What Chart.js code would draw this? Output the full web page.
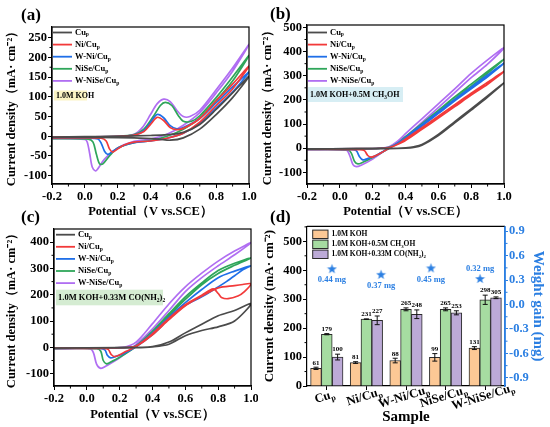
<!DOCTYPE html>
<html>
<head>
<meta charset="utf-8">
<script src="https://cdn.jsdelivr.net/npm/chart.js@4.4.1/dist/chart.umd.min.js"></script>
<style>
  html, body { margin: 0; padding: 0; background: #fff; }
  #wrap { position: relative; width: 550px; height: 427px; overflow: hidden; }
  canvas { position: absolute; }
</style>
</head>
<body>
<div id="wrap">
  <canvas id="ca" width="258" height="222" style="left:0;top:0"></canvas>
  <canvas id="cb" width="292" height="222" style="left:258px;top:0"></canvas>
  <canvas id="cc" width="258" height="222" style="left:0;top:205px"></canvas>
  <canvas id="cd" width="292" height="222" style="left:258px;top:205px"></canvas>
</div>
<script>
// ---- data ----
const SAMPLES = ['Cu', 'Ni/Cu', 'W-Ni/Cu', 'NiSe/Cu', 'W-NiSe/Cu']; // each gets a subscript "p"
const COLORS = ['#4b4b4b', '#f23a3a', '#1f6fe8', '#2fa65a', '#b06ef2'];

const potTicks = [-0.2, 0, 0.2, 0.4, 0.6, 0.8, 1.0];
const kohTicks = [-100, -50, 0, 50, 100, 150, 200, 250];
const methTicks = [-100, 0, 100, 200, 300, 400, 500];
const ureaTicks = [-100, 0, 100, 200, 300, 400];
const barTicks = [0, 100, 200, 300, 400, 500];
const weightTicks = [-0.9, -0.6, -0.3, 0, 0.3, 0.6, 0.9];

// (a) 1.0M KOH  [potential V, current mA/cm2], forward then reverse scan
const koh_Cu = [[-0.2,-2],[0,-1],[0.2,0],[0.4,2],[0.5,4],[0.6,10],[0.7,30],[0.8,68],[0.9,110],[1.0,152],[0.9,98],[0.8,55],[0.7,18],[0.6,-4],[0.52,-10],[0.45,-7],[0.3,-4],[0,-3],[-0.2,-3]];
const koh_Ni = [[-0.2,-2],[0.2,0],[0.3,3],[0.36,12],[0.4,30],[0.44,48],[0.48,40],[0.52,22],[0.56,17],[0.6,20],[0.7,45],[0.8,90],[0.9,132],[1.0,178],[0.9,120],[0.8,78],[0.7,36],[0.6,8],[0.5,-5],[0.4,-12],[0.3,-15],[0.24,-22],[0.2,-32],[0.17,-40],[0.15,-32],[0.13,-12],[0.1,-5],[0,-4],[-0.2,-4]];
const koh_WNi = [[-0.2,-2],[0.2,0],[0.3,3],[0.36,14],[0.4,35],[0.44,55],[0.48,47],[0.52,27],[0.56,19],[0.6,22],[0.7,45],[0.8,85],[0.9,125],[1.0,163],[0.9,112],[0.8,72],[0.7,33],[0.6,8],[0.5,-5],[0.4,-12],[0.3,-16],[0.22,-26],[0.17,-38],[0.14,-46],[0.12,-38],[0.1,-18],[0.08,-7],[0,-5],[-0.2,-5]];
const koh_NiSe = [[-0.2,-3],[0.2,0],[0.3,4],[0.36,18],[0.42,52],[0.46,78],[0.49,86],[0.53,78],[0.57,52],[0.6,38],[0.65,38],[0.7,52],[0.8,98],[0.9,150],[1.0,205],[0.9,140],[0.8,90],[0.7,46],[0.6,18],[0.5,0],[0.4,-11],[0.3,-16],[0.2,-30],[0.15,-50],[0.11,-70],[0.09,-70],[0.07,-45],[0.05,-15],[0.02,-7],[-0.2,-6]];
const koh_WNiSe = [[-0.2,-4],[0.2,-1],[0.3,5],[0.35,22],[0.4,55],[0.44,82],[0.48,94],[0.52,88],[0.56,66],[0.6,50],[0.64,50],[0.7,66],[0.8,118],[0.9,173],[1.0,233],[0.9,165],[0.8,110],[0.7,60],[0.6,28],[0.5,5],[0.4,-7],[0.3,-13],[0.2,-30],[0.12,-58],[0.08,-82],[0.065,-88],[0.045,-78],[0.03,-45],[0.015,-15],[0,-8],[-0.2,-6]];

// (b) 1.0M KOH + 0.5M CH3OH
const meth_Cu = [[-0.2,-3],[0.2,-1],[0.35,0],[0.4,2],[0.45,6],[0.5,15],[0.6,57],[0.7,110],[0.8,163],[0.9,217],[1.0,270],[0.9,212],[0.8,158],[0.7,105],[0.6,52],[0.5,12],[0.45,3],[0.4,0],[0.3,-2],[-0.2,-4]];
const meth_Ni = [[-0.2,-3],[0.1,-2],[0.25,0],[0.3,3],[0.35,15],[0.4,38],[0.5,85],[0.6,133],[0.7,180],[0.8,228],[0.9,273],[1.0,318],[0.9,265],[0.8,220],[0.7,172],[0.6,125],[0.5,78],[0.4,32],[0.3,0],[0.25,-20],[0.21,-33],[0.19,-37],[0.17,-30],[0.15,-10],[0.12,-6],[-0.2,-5]];
const meth_WNi = [[-0.2,-3],[0.1,-2],[0.25,0],[0.3,3],[0.35,18],[0.4,45],[0.5,98],[0.6,150],[0.7,202],[0.8,253],[0.9,303],[1.0,352],[0.9,296],[0.8,246],[0.7,196],[0.6,144],[0.5,92],[0.4,40],[0.3,0],[0.22,-30],[0.16,-45],[0.14,-48],[0.12,-35],[0.1,-10],[0.07,-6],[-0.2,-5]];
const meth_NiSe = [[-0.2,-3],[0.1,-2],[0.25,0],[0.3,4],[0.35,20],[0.4,48],[0.5,102],[0.6,157],[0.7,212],[0.8,265],[0.9,318],[1.0,368],[0.9,310],[0.8,256],[0.7,202],[0.6,148],[0.5,96],[0.4,43],[0.3,0],[0.2,-38],[0.14,-58],[0.11,-65],[0.09,-55],[0.07,-20],[0.05,-7],[-0.2,-5]];
const meth_WNiSe = [[-0.2,-4],[0.1,-3],[0.25,0],[0.3,6],[0.35,28],[0.4,60],[0.5,122],[0.6,184],[0.7,246],[0.8,310],[0.9,366],[1.0,416],[0.9,348],[0.8,292],[0.7,230],[0.6,168],[0.5,107],[0.4,48],[0.3,3],[0.2,-45],[0.13,-70],[0.1,-76],[0.08,-68],[0.06,-30],[0.04,-8],[-0.2,-6]];

// (c) 1.0M KOH + 0.33M CO(NH2)2
const urea_Cu = [[-0.2,-3],[0.2,-1],[0.4,3],[0.5,20],[0.6,55],[0.7,88],[0.8,120],[0.9,140],[1.0,166],[0.9,100],[0.8,78],[0.7,64],[0.6,44],[0.5,12],[0.4,2],[0.3,-1],[-0.2,-3]];
const urea_Ni = [[-0.2,-3],[0.1,-2],[0.25,0],[0.3,5],[0.4,52],[0.5,110],[0.6,162],[0.7,198],[0.77,222],[0.8,205],[0.82,190],[0.86,185],[0.92,195],[0.96,212],[1.0,242],[0.95,239],[0.9,235],[0.8,226],[0.7,195],[0.6,158],[0.5,105],[0.4,48],[0.3,3],[0.24,-15],[0.2,-28],[0.17,-35],[0.15,-28],[0.13,-8],[0.1,-4],[-0.2,-4]];
const urea_WNi = [[-0.2,-3],[0.1,-2],[0.25,0],[0.3,5],[0.4,55],[0.5,115],[0.6,170],[0.7,220],[0.8,265],[0.9,290],[1.0,310],[0.95,295],[0.9,272],[0.85,250],[0.8,230],[0.7,192],[0.6,160],[0.5,108],[0.4,48],[0.3,2],[0.22,-25],[0.17,-36],[0.145,-40],[0.125,-30],[0.11,-10],[0.08,-4],[-0.2,-4]];
const urea_NiSe = [[-0.2,-3],[0.1,-2],[0.25,0],[0.3,6],[0.4,62],[0.5,128],[0.6,192],[0.7,245],[0.8,292],[0.9,320],[1.0,340],[0.9,312],[0.8,281],[0.7,238],[0.6,182],[0.5,120],[0.4,55],[0.3,3],[0.2,-38],[0.14,-58],[0.12,-63],[0.1,-50],[0.085,-15],[0.06,-5],[-0.2,-5]];
const urea_WNiSe = [[-0.2,-4],[0.1,-3],[0.22,0],[0.3,20],[0.4,90],[0.5,165],[0.6,230],[0.7,282],[0.8,328],[0.9,366],[1.0,398],[0.9,352],[0.8,310],[0.7,265],[0.6,212],[0.5,140],[0.4,70],[0.3,10],[0.2,-40],[0.12,-70],[0.085,-80],[0.06,-65],[0.04,-20],[0.02,-6],[-0.2,-5]];

// (d) current density at 1.0 V and weight gain
const barSeries = ['1.0M KOH', '1.0M KOH+0.5M CH3OH', '1.0M KOH+0.33M CO(NH2)2'];
const kohJ = [61, 81, 88, 99, 131];
const kohErr = [4, 3, 8, 13, 5];
const methJ = [179, 231, 265, 265, 298];
const methErr = [2, 1, 5, 5, 16];
const ureaJ = [100, 227, 248, 253, 305];
const ureaErr = [10, 15, 15, 7, 3];
const weightGain = [0.44, 0.37, 0.45, 0.32];
const starX = [0.13, 1.37, 2.63, 3.87];

// ---- helpers ----
const FONT = '"Liberation Serif", "Times New Roman", serif';
const BLUE = '#2b7fe2';
const BAR_COLORS = ['#fcc895', '#a6dca1', '#bcaad7'];
const f = (size) => ({ family: FONT, size: size, weight: 'bold' });

// draws text made of [string, isSubscript] pieces
function drawRich(ctx, parts, x, y, size, color, align) {
  ctx.save();
  ctx.fillStyle = color;
  ctx.textBaseline = 'middle';
  ctx.textAlign = 'left';
  const widths = parts.map(([t, s]) => {
    ctx.font = `bold ${s ? size * 0.65 : size}px ${FONT}`;
    return ctx.measureText(t).width;
  });
  const total = widths.reduce((a, b) => a + b, 0);
  let cx = align === 'center' ? x - total / 2 : x;
  parts.forEach(([t, s], i) => {
    ctx.font = `bold ${s ? size * 0.65 : size}px ${FONT}`;
    ctx.fillText(t, cx, s ? y + size * 0.3 : y);
    cx += widths[i];
  });
  ctx.restore();
}
const sampleParts = (name) => [[name, false], ['p', true]];

function panelLetter(ctx, text, x, y) {
  ctx.save();
  ctx.font = `bold 17px ${FONT}`;
  ctx.fillStyle = '#000';
  ctx.textAlign = 'left';
  ctx.textBaseline = 'alphabetic';
  ctx.fillText(text, x, y);
  ctx.restore();
}

function minorTicks(ctx, scale, vals, side, color) {
  const a = scale.chart.chartArea;
  ctx.save();
  ctx.strokeStyle = color;
  ctx.lineWidth = 1;
  ctx.beginPath();
  vals.forEach(v => {
    const p = scale.getPixelForValue(v);
    if (side === 'bottom') { ctx.moveTo(p, a.bottom); ctx.lineTo(p, a.bottom + 2.5); }
    if (side === 'left') { ctx.moveTo(a.left - 2.5, p); ctx.lineTo(a.left, p); }
    if (side === 'right') { ctx.moveTo(a.right, p); ctx.lineTo(a.right + 2.5, p); }
  });
  ctx.stroke();
  ctx.restore();
}
function steps(from, to, step) {
  const out = [];
  for (let v = from; v <= to + 1e-9; v += step) out.push(+v.toFixed(4));
  return out;
}

const axisCommon = {
  grid: { drawOnChartArea: false, tickLength: 4, color: '#000', lineWidth: 1 },
  border: { color: '#000', width: 1.2 },
};

// one CV panel
function cvChart(id, o) {
  new Chart(document.getElementById(id), {
    type: 'scatter',
    data: {
      datasets: o.series.map((pts, i) => ({
        label: SAMPLES[i],
        data: pts.map(([x, y]) => ({ x, y })),
        showLine: true,
        borderColor: COLORS[i],
        borderWidth: 1.7,
        pointRadius: 0,
        tension: 0.3,
      })),
    },
    options: {
      responsive: false,
      animation: false,
      events: [],
      layout: { padding: o.pad },
      plugins: { legend: { display: false }, tooltip: { enabled: false } },
      scales: {
        x: {
          type: 'linear', min: -0.2, max: 1.0,
          afterBuildTicks: s => { s.ticks = potTicks.map(v => ({ value: v })); },
          afterFit: s => { s.height = o.xH; s.paddingLeft = 0; s.paddingRight = 0; },
          ticks: { font: f(12.5), color: '#000', padding: 1, maxRotation: 0, callback: v => v.toFixed(1) },
          ...axisCommon,
          title: { display: true, text: 'Potential（V vs.SCE）', font: f(12.5), color: '#000', padding: { top: 0, bottom: o.xTitlePad } },
        },
        y: {
          min: o.yMin, max: o.yMax,
          afterBuildTicks: s => { s.ticks = o.yTicks.map(v => ({ value: v })); },
          afterFit: s => { s.width = o.yW; s.paddingTop = 0; s.paddingBottom = 0; },
          ticks: { font: f(12.5), color: '#000', padding: 1 },
          ...axisCommon,
          title: { display: true, text: 'Current density（mA· cm⁻²）', font: f(12.5), color: '#000', padding: { top: o.yTitlePad, bottom: 0 } },
        },
      },
    },
    plugins: [{
      id: 'deco',
      afterDraw(chart) {
        const ctx = chart.ctx, a = chart.chartArea;
        ctx.save();
        ctx.strokeStyle = '#000';
        ctx.lineWidth = 1.2;
        ctx.strokeRect(a.left, a.top, a.right - a.left, a.bottom - a.top);
        ctx.restore();
        minorTicks(ctx, chart.scales.x, steps(-0.1, 0.9, 0.2), 'bottom', '#000');
        minorTicks(ctx, chart.scales.y, o.yMinor, 'left', '#000');
        // legend
        o.series.forEach((s, i) => {
          const y = o.legY + i * 12.1;
          ctx.save();
          ctx.strokeStyle = COLORS[i];
          ctx.lineWidth = 1.8;
          ctx.beginPath();
          ctx.moveTo(o.legX, y); ctx.lineTo(o.legX + 19, y);
          ctx.stroke();
          ctx.restore();
          drawRich(ctx, sampleParts(SAMPLES[i]), o.legX + 22, y, 8.5, '#000');
        });
        // electrolyte tag
        const b = o.box;
        ctx.save();
        ctx.fillStyle = b.fill;
        ctx.fillRect(b.x, b.y, b.w, b.h);
        ctx.restore();
        drawRich(ctx, b.parts, b.x + 2, b.y + b.h / 2 + 0.5, b.size, '#000');
        panelLetter(ctx, o.letter[0], o.letter[1], o.letter[2]);
      },
    }],
  });
}

cvChart('ca', {
  series: [koh_Cu, koh_Ni, koh_WNi, koh_NiSe, koh_WNiSe],
  yMin: -121, yMax: 277, yTicks: kohTicks, yMinor: steps(-75, 225, 50),
  pad: { left: 0, right: 9, top: 27, bottom: 0 }, yW: 52, xH: 38, xTitlePad: 2.5, yTitlePad: 4,
  legX: 53, legY: 32.5,
  box: { x: 54, y: 90.5, w: 33, h: 10, fill: '#fbf4c4', size: 8, parts: [['1.0M KOH', false]] },
  letter: ['(a)', 21, 20],
});
cvChart('cb', {
  series: [meth_Cu, meth_Ni, meth_WNi, meth_NiSe, meth_WNiSe],
  yMin: -148, yMax: 510, yTicks: methTicks, yMinor: steps(-50, 450, 100),
  pad: { left: 0, right: 46, top: 25, bottom: 0 }, yW: 49, xH: 38, xTitlePad: 2.5, yTitlePad: 2,
  legX: 50, legY: 32.5,
  box: { x: 50, y: 87, w: 95, h: 15, fill: '#d7eef4', size: 8, parts: [['1.0M KOH+0.5M CH', false], ['3', true], ['OH', false]] },
  letter: ['(b)', 12, 19],
});
cvChart('cc', {
  series: [urea_Cu, urea_Ni, urea_WNi, urea_NiSe, urea_WNiSe],
  yMin: -147, yMax: 450, yTicks: ureaTicks, yMinor: steps(-50, 350, 100),
  pad: { left: 0, right: 7, top: 24, bottom: 0 }, yW: 54, xH: 41, xTitlePad: 4.8, yTitlePad: 4,
  legX: 56, legY: 29.7,
  box: { x: 56, y: 84.7, w: 107, h: 15.6, fill: '#d5ecd2', size: 8.5, parts: [['1.0M KOH+0.33M CO(NH', false], ['2', true], [')', false], ['2', true]] },
  letter: ['(c)', 21, 17],
});

// ---- (d) bars + weight gain ----
const starImg = (() => {
  const c = document.createElement('canvas');
  c.width = 11; c.height = 11;
  const g = c.getContext('2d');
  g.fillStyle = BLUE;
  g.beginPath();
  for (let k = 0; k < 10; k++) {
    const r = k % 2 ? 2.1 : 5.2;
    const ang = -Math.PI / 2 + k * Math.PI / 5;
    g.lineTo(5.5 + r * Math.cos(ang), 6 + r * Math.sin(ang));
  }
  g.closePath();
  g.fill();
  return c;
})();

const barVals = [kohJ, methJ, ureaJ];
const barErrs = [kohErr, methErr, ureaErr];

new Chart(document.getElementById('cd'), {
  type: 'bar',
  data: {
    datasets: [
      ...barVals.map((vals, d) => ({
        label: barSeries[d],
        data: vals.map((v, i) => ({ x: i, y: v })),
        yAxisID: 'y',
        backgroundColor: BAR_COLORS[d], borderColor: '#2a2a2a', borderWidth: 1,
        barThickness: 10.8,
      })),
      {
        type: 'scatter', label: 'Weight gain',
        data: starX.map((x, i) => ({ x, y: weightGain[i] })),
        yAxisID: 'yr', pointStyle: starImg, pointRadius: 5,
      },
    ],
  },
  options: {
    responsive: false,
    animation: false,
    events: [],
    layout: { padding: { left: 0, right: 0, top: 21.3, bottom: 0 } },
    plugins: { legend: { display: false }, tooltip: { enabled: false } },
    scales: {
      x: {
        type: 'linear', min: -0.5, max: 4.5, offset: false,
        afterBuildTicks: s => { s.ticks = SAMPLES.map((_, i) => ({ value: i })); },
        ticks: { display: false },
        afterFit: s => { s.height = 41; s.paddingLeft = 0; s.paddingRight = 0; },
        grid: { drawOnChartArea: false, tickLength: 4, color: '#000', offset: false },
        border: { color: '#000', width: 1.2 },
        title: { display: true, text: 'Sample', font: f(15), color: '#000', padding: { top: 0, bottom: 1 } },
      },
      y: {
        position: 'left', min: 0, max: 552,
        afterBuildTicks: s => { s.ticks = barTicks.map(v => ({ value: v })); },
        afterFit: s => { s.width = 49; s.paddingTop = 0; s.paddingBottom = 0; },
        ticks: { font: f(12.5), color: '#000', padding: 1 },
        ...axisCommon,
        title: { display: true, text: 'Current density (mA· cm⁻²)', font: f(13), color: '#000', padding: { top: 4, bottom: 0 } },
      },
      yr: {
        position: 'right', min: -1.0, max: 0.96,
        afterBuildTicks: s => { s.ticks = weightTicks.map(v => ({ value: v })); },
        afterFit: s => { s.width = 45; s.paddingTop = 0; s.paddingBottom = 0; },
        ticks: { font: f(12.5), color: BLUE, padding: 1, callback: v => v.toFixed(1) },
        grid: { drawOnChartArea: false, tickLength: 3, color: BLUE },
        border: { color: BLUE, width: 1.5 },
        title: { display: true, text: 'Weight gain (mg)', font: f(15), color: BLUE, padding: { top: 3, bottom: 0 } },
      },
    },
  },
  plugins: [{
    id: 'decoD',
    afterDraw(chart) {
      const ctx = chart.ctx, a = chart.chartArea;
      const ys = chart.scales.y, xs = chart.scales.x;
      // frame
      ctx.save();
      ctx.lineWidth = 1.2;
      ctx.strokeStyle = '#000';
      ctx.beginPath();
      ctx.moveTo(a.left, a.top); ctx.lineTo(a.right, a.top);
      ctx.stroke();
      ctx.strokeStyle = BLUE;
      ctx.lineWidth = 1.5;
      ctx.beginPath();
      ctx.moveTo(a.right, a.top); ctx.lineTo(a.right, a.bottom);
      ctx.stroke();
      ctx.restore();
      minorTicks(ctx, ys, steps(50, 550, 100), 'left', '#000');
      minorTicks(ctx, chart.scales.yr, steps(-0.75, 0.75, 0.3), 'right', BLUE);

      // error bars and value labels
      barVals.forEach((vals, d) => {
        const meta = chart.getDatasetMeta(d);
        meta.data.forEach((el, i) => {
          const top = ys.getPixelForValue(vals[i] + barErrs[d][i]);
          const bot = ys.getPixelForValue(vals[i] - barErrs[d][i]);
          ctx.save();
          ctx.strokeStyle = '#111';
          ctx.lineWidth = 1;
          ctx.beginPath();
          ctx.moveTo(el.x, top); ctx.lineTo(el.x, bot);
          ctx.moveTo(el.x - 2.5, top); ctx.lineTo(el.x + 2.5, top);
          ctx.moveTo(el.x - 2.5, bot); ctx.lineTo(el.x + 2.5, bot);
          ctx.stroke();
          ctx.font = `bold 7px ${FONT}`;
          ctx.fillStyle = '#000';
          ctx.textAlign = 'center';
          ctx.textBaseline = 'bottom';
          ctx.fillText(String(vals[i]), el.x, top - 1);
          ctx.restore();
        });
      });

      // weight gain labels
      const sy = chart.scales.yr;
      weightGain.forEach((w, i) => {
        const px = xs.getPixelForValue(starX[i]);
        const py = sy.getPixelForValue(w) + (i === 3 ? -9.5 : 11.5);
        ctx.save();
        ctx.font = `bold 8.5px ${FONT}`;
        ctx.fillStyle = BLUE;
        ctx.textAlign = 'center';
        ctx.textBaseline = 'middle';
        ctx.fillText(w.toFixed(2) + ' mg', px, py);
        ctx.restore();
      });

      // rotated category labels with subscript
      SAMPLES.forEach((name, i) => {
        const px = xs.getPixelForValue(i) - 2;
        ctx.save();
        ctx.translate(px, a.bottom + 11);
        ctx.rotate(-17 * Math.PI / 180);
        drawRich(ctx, sampleParts(name), 0, 0, 12.5, '#000', 'center');
        ctx.restore();
      });

      // legend
      barSeries.forEach((lab, d) => {
        const y = 29.3 + d * 10;
        ctx.save();
        ctx.fillStyle = BAR_COLORS[d];
        ctx.strokeStyle = '#2a2a2a';
        ctx.lineWidth = 1;
        ctx.fillRect(54.7, y - 4.2, 15.3, 8.4);
        ctx.strokeRect(54.7, y - 4.2, 15.3, 8.4);
        ctx.restore();
        const parts = d === 0 ? [[lab, false]]
          : d === 1 ? [['1.0M KOH+0.5M CH', false], ['3', true], ['OH', false]]
          : [['1.0M KOH+0.33M CO(NH', false], ['2', true], [')', false], ['2', true]];
        drawRich(ctx, parts, 73.5, y, 7.5, '#000');
      });

      panelLetter(ctx, '(d)', 12, 17);
    },
  }],
});
</script>
</body>
</html>
